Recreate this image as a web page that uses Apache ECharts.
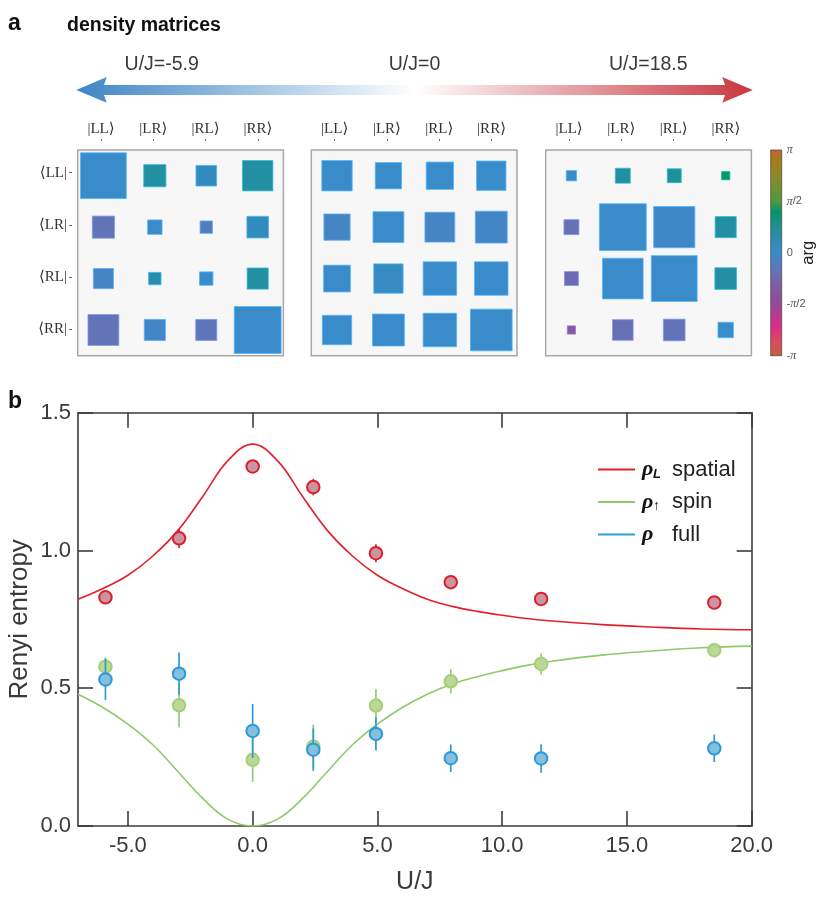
<!DOCTYPE html>
<html><head><meta charset="utf-8">
<style>html,body{margin:0;padding:0;background:#fff}#c{width:831px;height:898px}</style>
<script src="https://cdn.jsdelivr.net/npm/echarts@6/dist/echarts.min.js"></script>
</head><body><div id="c"></div>
<script>
// ---------- panel a: density matrices ----------
const kets = ['|LL⟩', '|LR⟩', '|RL⟩', '|RR⟩'];
const bras = ['⟨LL|', '⟨LR|', '⟨RL|', '⟨RR|'];
// side of each square, as a fraction of its cell
const sizeNeg = [[.89,.43,.40,.59],[.43,.28,.24,.42],[.39,.24,.26,.41],[.60,.41,.41,.91]];
const sizeZero = [[.59,.51,.53,.57],[.51,.60,.58,.62],[.52,.57,.65,.65],[.57,.62,.65,.81]];
const sizePos = [[.20,.29,.27,.16],[.29,.91,.80,.41],[.27,.79,.89,.42],[.16,.40,.42,.30]];
// phase of each element, in units of pi
const argNeg = [[0,.2,.07,.2],[-.17,0,-.1,.07],[-.05,.15,0,.2],[-.18,-.04,-.16,0]];
const argZero = [[0,0,0,0],[-.05,0,-.05,-.04],[0,.04,0,0],[0,0,0,0]];
const argPos = [[0,.2,.24,.38],[-.2,0,-.02,.2],[-.22,0,0,.18],[-.33,-.2,-.18,0]];
// colour scale: [phase in units of pi, colour]
const phaseStops = [[-1,'#c4603c'],[-.85,'#d84a62'],[-.72,'#e02a8c'],[-.5,'#94489c'],[-.3,'#7a5fa8'],[-.15,'#5d78bb'],[0,'#3a8bc9'],[.1,'#2e8cb8'],[.25,'#1e9098'],[.4,'#00966c'],[.5,'#4c9a40'],[.75,'#8c8a2a'],[.9,'#a87a1a'],[1,'#c4622f']];
const colorbarTicks = [-1,-.5,0,.5,1];
const colorbarLabels = ['{n|-}{p|π}','{n|-}{p|π}{n|/2}','{n|0}','{p|π}{n|/2}','{p|π}'];
const arrowLabels = ['U/J=-5.9','U/J=0','U/J=18.5'];

// ---------- panel b: Renyi entropy ----------
const uJ = [-5.9,-2.95,0,2.43,4.94,7.94,11.56,18.5];
const spatial = [.830,1.044,1.305,1.230,.990,.885,.824,.811];
const spatialErr = [.012,.035,.01,.03,.033,.02,.012,.012];
const spin = [.578,.438,.24,.288,.437,.525,.588,.638];
const spinErr = [.033,.08,.08,.08,.06,.044,.038,.025];
const full = [.532,.553,.345,.277,.334,.246,.245,.282];
const fullErr = [.075,.077,.098,.077,.06,.05,.052,.05];
const curveU = [-7,-6,-5,-4,-3,-2,-1,0,1,2,3,4,5,6,7,8,9,10,11,12,14,16,18,20];
const spatialCurve = [.823,.862,.91,.98,1.072,1.196,1.325,1.386,1.325,1.196,1.072,.98,.91,.862,.823,.797,.779,.765,.753,.744,.731,.722,.715,.712];
const spinCurve = [.478,.43,.37,.295,.198,.10,.025,0,.025,.10,.198,.295,.37,.43,.478,.515,.542,.564,.583,.598,.62,.635,.647,.653];
const xTicks = [-5,0,5,10,15,20];
const yTicks = [0,.5,1,1.5];
const legendNames = ['rhoL spatial','rhoUp spin','rho full'];
const legendRich = ['{r|ρ}{s|L}{t|spatial}','{r|ρ}{u|↑}{t|spin}','{r|ρ}{s| }{t|full}'];

const sans = '"Liberation Sans", Helvetica, Arial, sans-serif';
const serif = '"Liberation Serif", "DejaVu Serif", serif';
const ink = '#3a3a3a';

function phaseColor(a){
  for(let i=1;i<phaseStops.length;i++){
    if(a<=phaseStops[i][0]){
      const [a0,c0]=phaseStops[i-1],[a1,c1]=phaseStops[i];
      return echarts.color.lerp((a-a0)/(a1-a0),[c0,c1]);
    }
  }
  return phaseStops[phaseStops.length-1][1];
}

const panels = [
  {left:77.7, sizes:sizeNeg, args:argNeg, labelLeft:74.85, bras:true},
  {left:311.3, sizes:sizeZero, args:argZero, labelLeft:308.5, bras:false},
  {left:545.7, sizes:sizePos, args:argPos, labelLeft:542.9, bras:false}
];
const grid=[], xAxis=[], yAxis=[], series=[];

// panel b axes (grid 0)
grid.push({left:78, top:412.7, width:673.7, height:413.3, outerBoundsMode:'none'});
const lineStyle={color:'#3c3c3c',width:1.6};
const frameLine={show:true,onZero:false,lineStyle};
const plotTickStyle={length:15,inside:true,lineStyle:{color:'#3c3c3c',width:1.6}};
xAxis.push({gridIndex:0,type:'value',min:-7,max:20,position:'bottom',
  name:'U/J',nameLocation:'middle',nameGap:44,nameTextStyle:{fontFamily:sans,fontSize:25,color:ink},
  axisLine:frameLine,splitLine:{show:false},
  axisTick:{show:true,customValues:xTicks,...plotTickStyle},
  axisLabel:{show:true,customValues:xTicks,margin:9,fontFamily:sans,fontSize:22,color:ink,formatter:v=>v.toFixed(1)}});
xAxis.push({gridIndex:0,type:'value',min:-7,max:20,position:'top',
  axisLine:frameLine,splitLine:{show:false},
  axisTick:{show:true,customValues:xTicks,...plotTickStyle},axisLabel:{show:false}});
yAxis.push({gridIndex:0,type:'value',min:0,max:1.5,position:'left',
  name:'Renyi entropy',nameLocation:'middle',nameGap:45,nameMoveOverlap:false,nameRotate:90,nameTextStyle:{fontFamily:sans,fontSize:26,color:ink},
  axisLine:frameLine,splitLine:{show:false},
  axisTick:{show:true,customValues:yTicks,...plotTickStyle},
  axisLabel:{show:true,customValues:yTicks,margin:7,fontFamily:sans,fontSize:22,color:ink,formatter:v=>v.toFixed(1)}});
yAxis.push({gridIndex:0,type:'value',min:0,max:1.5,position:'right',
  axisLine:frameLine,splitLine:{show:false},
  axisTick:{show:true,customValues:yTicks,...plotTickStyle},axisLabel:{show:false}});

function curve(name,vals,color){
  return {name,type:'line',xAxisIndex:0,yAxisIndex:0,data:curveU.map((u,i)=>[u,vals[i]]),smooth:.4,showSymbol:false,symbol:'none',
    lineStyle:{color,width:1.6},itemStyle:{color},silent:true,z:3};
}
function markers(name,vals,errs,fill,edge,barColor,z){
  series.push({name:name+' err',type:'custom',xAxisIndex:0,yAxisIndex:0,z,
    data:uJ.map((u,i)=>[u,vals[i],errs[i]]),encode:{x:0,y:1},
    renderItem(p,api){
      const a=api.coord([api.value(0),api.value(1)-api.value(2)]);
      const b=api.coord([api.value(0),api.value(1)+api.value(2)]);
      return {type:'line',shape:{x1:a[0],y1:a[1],x2:b[0],y2:b[1]},style:{stroke:barColor,lineWidth:1.7}};
    }});
  series.push({name:name+' data',type:'scatter',xAxisIndex:0,yAxisIndex:0,z:z+.1,
    data:uJ.map((u,i)=>[u,vals[i]]),symbol:'circle',symbolSize:12.5,silent:true,
    itemStyle:{color:fill,borderColor:edge,borderWidth:2,opacity:1}});
}
series.push(curve(legendNames[0],spatialCurve,'#e2202c'));
series.push(curve(legendNames[1],spinCurve,'#8fc968'));
series.push({name:legendNames[2],type:'line',xAxisIndex:0,yAxisIndex:0,data:[],showSymbol:false,symbol:'none',lineStyle:{color:'#2a9fd8',width:1.6},itemStyle:{color:'#2a9fd8'}});
markers('spatial',spatial,spatialErr,'#c9959f','#dc1e2e','#dc1e2e',4);
markers('spin',spin,spinErr,'#bad896','#a3cf7a','#95cb6c',5);
markers('full',full,fullErr,'#84c0dc','#2a9bd8','#2a9bd8',6);

// matrices (one framed grid + one grid carrying the tick labels)
panels.forEach((P,k)=>{
  const gi=grid.length;
  grid.push({left:P.left,top:150,width:205.7,height:205.7,show:true,backgroundColor:'#f7f7f7',borderColor:'#a8a8a8',borderWidth:1.5,outerBoundsMode:'none'});
  xAxis.push({gridIndex:gi,type:'category',data:kets,show:false});
  yAxis.push({gridIndex:gi,type:'category',data:bras,inverse:true,show:false});
  const data=[];
  P.sizes.forEach((row,r)=>row.forEach((s,c)=>data.push([c,r,s,P.args[r][c]])));
  series.push({name:'matrix '+k,type:'custom',xAxisIndex:xAxis.length-1,yAxisIndex:yAxis.length-1,data,encode:{x:0,y:1},
    renderItem(p,api){
      const c=api.coord([api.value(0),api.value(1)]);
      const band=api.size([1,1]);
      const w=band[0]*api.value(2),h=band[1]*api.value(2);
      const col=phaseColor(api.value(3));
      return {type:'rect',shape:{x:c[0]-w/2,y:c[1]-h/2,width:w,height:h},
        style:{fill:col,stroke:echarts.color.lift(col,-.3),lineWidth:.8}};
    }});
  const li=grid.length;
  grid.push({left:P.labelLeft,top:146.6,width:209.2,height:208.4,outerBoundsMode:'none'});
  xAxis.push({gridIndex:li,type:'category',data:kets,position:'top',offset:5.6,
    axisLine:{show:false},axisTick:{show:true,alignWithLabel:true,length:2,lineStyle:{color:'#444',width:.8}},
    axisLabel:{show:true,margin:4,fontFamily:serif,fontSize:15,color:'#333',interval:0}});
  yAxis.push({gridIndex:li,type:'category',data:bras,inverse:true,position:'left',offset:2.85,
    axisLine:{show:false},axisTick:{show:P.bras,alignWithLabel:true,length:3,lineStyle:{color:'#444',width:.8}},
    axisLabel:{show:P.bras,margin:5,fontFamily:serif,fontSize:15,color:'#333',interval:0}});
});

// colour bar
const cbi=grid.length;
grid.push({left:770.7,top:150,width:11,height:205.7,outerBoundsMode:'none'});
xAxis.push({gridIndex:cbi,type:'value',min:0,max:1,show:false});
yAxis.push({gridIndex:cbi,type:'value',min:-1,max:1,position:'right',
  name:'arg',nameLocation:'middle',nameGap:18,nameMoveOverlap:false,nameRotate:90,nameTextStyle:{fontFamily:sans,fontSize:16.5,color:'#222'},
  axisLine:{show:false},splitLine:{show:false},
  axisTick:{show:true,customValues:colorbarTicks,length:3,lineStyle:{color:'#555',width:.8}},
  axisLabel:{show:true,customValues:colorbarTicks,margin:5,
    formatter:(v)=>colorbarLabels[colorbarTicks.indexOf(v)],
    rich:{p:{fontFamily:serif,fontStyle:'italic',fontSize:12,color:'#555'},n:{fontFamily:sans,fontSize:11,color:'#555'}}}});
series.push({name:'colour bar',type:'custom',xAxisIndex:xAxis.length-1,yAxisIndex:yAxis.length-1,data:[[0,-1,1,1]],encode:{x:0,y:1},
  renderItem(p,api){
    const a=api.coord([api.value(0),api.value(1)]),b=api.coord([api.value(2),api.value(3)]);
    return {type:'rect',shape:{x:a[0],y:b[1],width:b[0]-a[0],height:a[1]-b[1]},
      style:{fill:new echarts.graphic.LinearGradient(0,1,0,0,phaseStops.map(s=>({offset:(s[0]+1)/2,color:s[1]}))),stroke:'#5a4a40',lineWidth:.8}};
  }});

const chart=echarts.init(document.getElementById('c'),null,{renderer:'canvas'});
const txt=(x,y,text,size,weight,color,align)=>({type:'text',x,y,style:{text,fontFamily:sans,fontSize:size,fontWeight:weight||'normal',fill:color||ink,align:align||'left',verticalAlign:'middle'}});
chart.setOption({
  animation:false,backgroundColor:'#fff',
  grid,xAxis,yAxis,series,
  legend:{data:legendNames,orient:'vertical',left:593,top:453.5,itemWidth:37,itemHeight:1.8,itemGap:10,icon:'rect',selectedMode:false,
    formatter:n=>legendRich[legendNames.indexOf(n)],
    textStyle:{rich:{
      r:{fontFamily:serif,fontStyle:'italic',fontWeight:'bold',fontSize:22,color:'#111',width:11,padding:[0,0,0,2]},
      s:{fontFamily:sans,fontStyle:'italic',fontWeight:'bold',fontSize:13,color:'#111',width:19,verticalAlign:'bottom',lineHeight:22},
      u:{fontFamily:sans,fontSize:14,color:'#111',width:19,verticalAlign:'bottom',lineHeight:22},
      t:{fontFamily:sans,fontSize:22,color:'#222',lineHeight:23}
    }}},
  graphic:[
    txt(8,24,'a',23,'bold','#111'),
    txt(8,402,'b',23,'bold','#111'),
    txt(67,26,'density matrices',19.5,'bold','#111'),
    txt(161.7,65,arrowLabels[0],19.5,'normal',ink,'center'),
    txt(414.5,65,arrowLabels[1],19.5,'normal',ink,'center'),
    txt(648.3,65,arrowLabels[2],19.5,'normal',ink,'center'),
    {type:'polygon',shape:{points:[[76.3,90],[106.7,77],[104,85],[725,85],[722.3,77],[752.7,90],[722.3,102.7],[725,95],[104,95],[106.7,102.7]]},
     style:{fill:new echarts.graphic.LinearGradient(0,0,1,0,[{offset:0,color:'#3d85c6'},{offset:.5,color:'#ffffff'},{offset:1,color:'#c8373f'}])}}
  ]
});
</script></body></html>
